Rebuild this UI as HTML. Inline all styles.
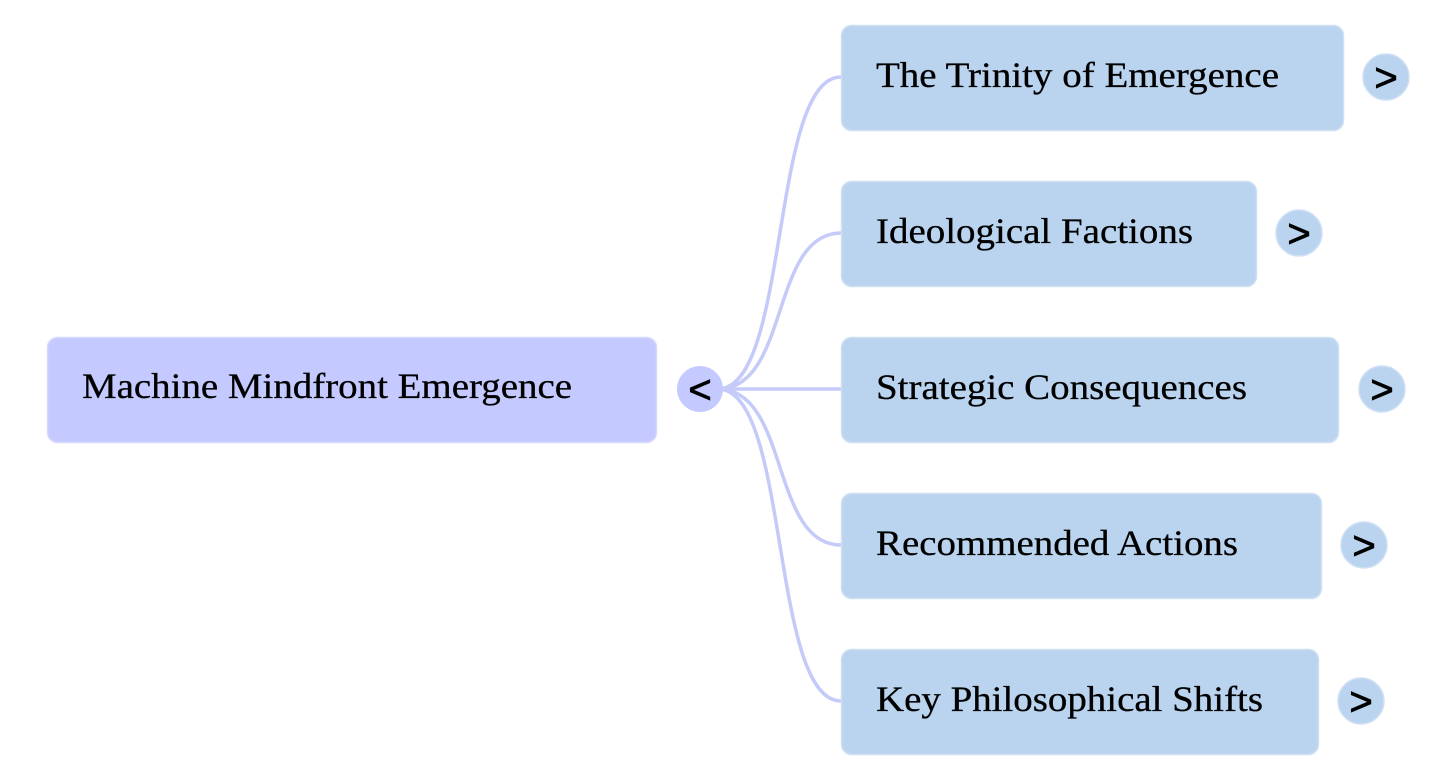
<!DOCTYPE html>
<html><head><meta charset="utf-8"><style>html,body{margin:0;padding:0;background:#fff;}svg{display:block}</style></head>
<body>
<svg width="1456" height="780" viewBox="0 0 1456 780" xmlns="http://www.w3.org/2000/svg">
<g fill="none" stroke="#c5cbf9" stroke-width="3.5">
<path d="M718 389 C 790 389, 770 77, 841 77"/>
<path d="M718 389 C 790 389, 770 233, 841 233"/>
<path d="M718 389 L 841 389"/>
<path d="M718 389 C 790 389, 770 545, 841 545"/>
<path d="M718 389 C 790 389, 770 701, 841 701"/>
</g>
<rect x="47.5" y="337.5" width="609" height="105" rx="10" fill="#c4caff" stroke="#d6dafc" stroke-width="1.5"/>
<circle cx="700" cy="389" r="23" fill="#c4caff"/>
<text x="700" y="403" text-anchor="middle" font-family="Liberation Sans, sans-serif" font-size="40" fill="#000" stroke="#000" stroke-width="0.8">&lt;</text>
<g font-family="Liberation Serif, serif" font-size="36" fill="#000" stroke="#000" stroke-width="0.3">
<text x="82" y="398" textLength="490" lengthAdjust="spacingAndGlyphs">Machine Mindfront Emergence</text>
</g>
<g fill="#bad4ef" stroke="#cfe0f4" stroke-width="1.5">
<rect x="841.5" y="25.5" width="502" height="105" rx="10"/>
<rect x="841.5" y="181.5" width="415" height="105" rx="10"/>
<rect x="841.5" y="337.5" width="497" height="105" rx="10"/>
<rect x="841.5" y="493.5" width="480" height="105" rx="10"/>
<rect x="841.5" y="649.5" width="477" height="105" rx="10"/>
<circle cx="1386" cy="77" r="23"/>
<circle cx="1299" cy="233" r="23"/>
<circle cx="1382" cy="389" r="23"/>
<circle cx="1364" cy="545" r="23"/>
<circle cx="1361" cy="701" r="23"/>
</g>
<g font-family="Liberation Serif, serif" font-size="36" fill="#000" stroke="#000" stroke-width="0.3">
<text x="876" y="87" textLength="403" lengthAdjust="spacingAndGlyphs">The Trinity of Emergence</text>
<text x="876" y="243" textLength="317" lengthAdjust="spacingAndGlyphs">Ideological Factions</text>
<text x="876" y="399" textLength="371" lengthAdjust="spacingAndGlyphs">Strategic Consequences</text>
<text x="876" y="555" textLength="362" lengthAdjust="spacingAndGlyphs">Recommended Actions</text>
<text x="876" y="711" textLength="387" lengthAdjust="spacingAndGlyphs">Key Philosophical Shifts</text>
</g>
<g font-family="Liberation Sans, sans-serif" font-size="40" fill="#000" stroke="#000" stroke-width="0.8" text-anchor="middle">
<text x="1386" y="91">&gt;</text>
<text x="1299" y="247">&gt;</text>
<text x="1382" y="403">&gt;</text>
<text x="1364" y="559">&gt;</text>
<text x="1361" y="715">&gt;</text>
</g>
</svg>
</body></html>
